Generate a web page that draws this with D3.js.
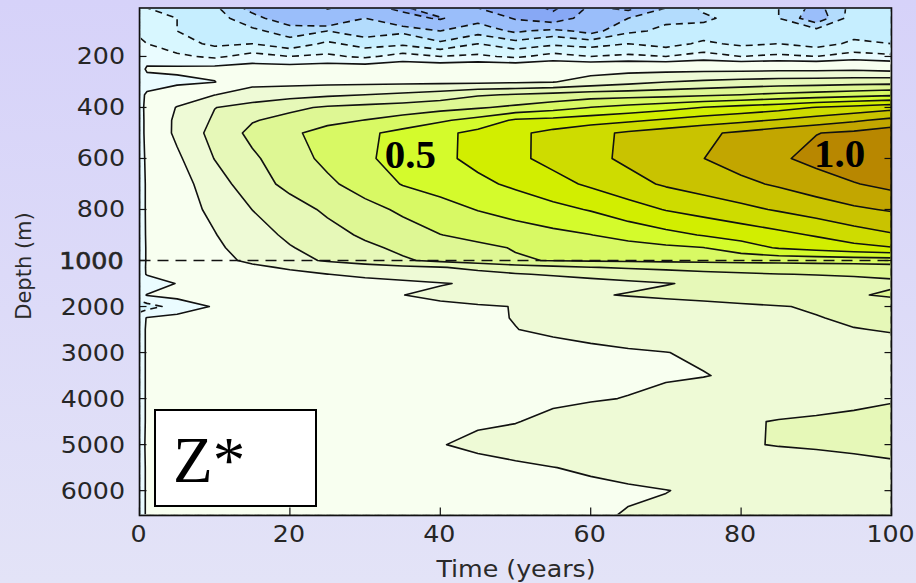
<!DOCTYPE html>
<html><head><meta charset="utf-8">
<script src="https://cdn.jsdelivr.net/npm/d3@7"></script>
<style>html,body{margin:0;padding:0;background:#dcdaf8;} body{width:916px;height:583px;overflow:hidden;}</style>
</head><body>
<svg id="chart" width="916" height="583"></svg>
<script>
// ---- data ----
const times  = [0,1,5,10,15,20,25,30,35,40,45,50,55,60,65,70,75,80,85,90,95,100];
const depths = [10,50,100,150,200,250,300,350,400,450,500,600,700,800,900,950,1000,
                1150,1300,1500,1750,2000,2250,2500,3000,3500,4000,4500,5000,5500,6000,6540];
// one row per depth, one column per time
const zRows = [
[-0.1,-0.1,-0.12,-0.14,-0.22,-0.28,-0.19,-0.27,-0.32,-0.21,-0.3,-0.33,-0.42,-0.28,-0.33,-0.2,-0.14,-0.12,-0.15,-0.22,-0.13,-0.12],
[-0.08,-0.09,-0.1,-0.13,-0.18,-0.24,-0.28,-0.2,-0.27,-0.31,-0.22,-0.31,-0.36,-0.25,-0.2,-0.16,-0.16,-0.13,-0.15,-0.24,-0.12,-0.11],
[-0.06,-0.07,-0.1,-0.12,-0.14,-0.17,-0.15,-0.18,-0.16,-0.2,-0.17,-0.21,-0.18,-0.22,-0.16,-0.14,-0.13,-0.12,-0.14,-0.13,-0.12,-0.11],
[-0.04,-0.05,-0.08,-0.11,-0.1,-0.13,-0.09,-0.12,-0.11,-0.14,-0.1,-0.13,-0.11,-0.12,-0.1,-0.12,-0.09,-0.11,-0.1,-0.12,-0.09,-0.1],
[-0.03,-0.03,-0.04,-0.06,-0.03,-0.05,-0.04,-0.06,-0.03,-0.05,-0.04,-0.06,-0.03,-0.05,-0.04,-0.05,-0.03,-0.05,-0.04,-0.05,-0.03,-0.04],
[-0.03,0.01,0.012,0.02,0.025,0.03,0.035,0.04,0.045,0.05,0.055,0.06,0.06,0.065,0.07,0.07,0.075,0.075,0.08,0.08,0.085,0.07],
[-0.05,-0.03,-0.015,-0.002,0.068,0.07,0.074,0.076,0.077,0.079,0.079,0.087,0.097,0.133,0.167,0.2,0.218,0.233,0.244,0.25,0.258,0.264],
[-0.02,0.01,0.045,0.098,0.148,0.164,0.183,0.2,0.22,0.245,0.29,0.307,0.328,0.35,0.358,0.367,0.382,0.4,0.421,0.439,0.459,0.481],
[-0.02,0.016,0.105,0.198,0.233,0.279,0.313,0.329,0.344,0.366,0.39,0.421,0.459,0.502,0.533,0.565,0.603,0.633,0.662,0.705,0.732,0.765],
[-0.02,0.014,0.119,0.213,0.293,0.33,0.375,0.402,0.438,0.486,0.533,0.615,0.63,0.656,0.681,0.714,0.747,0.775,0.809,0.843,0.884,0.928],
[-0.02,0.014,0.12,0.233,0.324,0.383,0.434,0.481,0.529,0.576,0.627,0.68,0.728,0.774,0.815,0.848,0.882,0.918,0.957,0.997,1.02,1.06],
[-0.02,0.009,0.083,0.203,0.284,0.356,0.424,0.486,0.534,0.578,0.627,0.68,0.729,0.775,0.819,0.859,0.899,0.942,0.985,1.03,1.07,1.1],
[-0.02,0.006,0.058,0.153,0.257,0.326,0.381,0.443,0.505,0.541,0.578,0.618,0.667,0.716,0.768,0.812,0.845,0.878,0.913,0.954,0.994,1.03],
[-0.02,0.006,0.057,0.121,0.201,0.26,0.316,0.368,0.417,0.461,0.504,0.538,0.571,0.607,0.657,0.705,0.74,0.775,0.81,0.847,0.884,0.91],
[-0.02,0.005,0.048,0.096,0.16,0.218,0.267,0.314,0.357,0.398,0.425,0.45,0.475,0.498,0.535,0.571,0.606,0.64,0.673,0.709,0.754,0.79],
[-0.02,0.004,0.04,0.085,0.137,0.194,0.239,0.282,0.318,0.348,0.379,0.406,0.424,0.443,0.461,0.48,0.498,0.556,0.609,0.639,0.67,0.695],
[-0.02,0.004,0.035,0.075,0.116,0.166,0.212,0.25,0.289,0.32,0.35,0.39,0.405,0.41,0.415,0.42,0.425,0.43,0.435,0.44,0.445,0.45],
[-0.02,0.005,0.03,0.058,0.085,0.11,0.132,0.155,0.177,0.195,0.222,0.25,0.275,0.297,0.31,0.32,0.33,0.335,0.34,0.345,0.35,0.36],
[-0.02,0.004,0.02,0.04,0.06,0.08,0.099,0.118,0.137,0.155,0.174,0.193,0.21,0.23,0.25,0.265,0.28,0.29,0.298,0.303,0.306,0.31],
[-0.05,-0.04,0.003,0.022,0.036,0.05,0.06,0.07,0.08,0.095,0.111,0.128,0.145,0.162,0.179,0.196,0.213,0.231,0.248,0.265,0.28,0.29],
[-0.02,0.003,0.015,0.03,0.045,0.058,0.072,0.086,0.099,0.118,0.136,0.154,0.172,0.19,0.206,0.221,0.235,0.25,0.264,0.279,0.293,0.31],
[-0.08,-0.07,-0.03,0.005,0.03,0.045,0.055,0.065,0.075,0.083,0.092,0.102,0.115,0.128,0.142,0.155,0.168,0.182,0.195,0.21,0.235,0.26],
[-0.02,0.003,0.015,0.03,0.04,0.05,0.058,0.065,0.073,0.08,0.09,0.102,0.114,0.126,0.138,0.149,0.161,0.173,0.185,0.196,0.213,0.23],
[-0.01,0.003,0.012,0.025,0.035,0.045,0.053,0.06,0.068,0.077,0.088,0.099,0.11,0.121,0.132,0.143,0.154,0.165,0.176,0.186,0.197,0.205],
[-0.01,0.003,0.01,0.02,0.028,0.035,0.042,0.048,0.054,0.06,0.066,0.072,0.079,0.086,0.093,0.099,0.108,0.118,0.128,0.138,0.152,0.17],
[-0.01,0.003,0.01,0.018,0.026,0.033,0.04,0.046,0.052,0.058,0.064,0.07,0.076,0.082,0.088,0.093,0.098,0.108,0.118,0.128,0.142,0.16],
[-0.01,0.003,0.012,0.022,0.032,0.041,0.05,0.058,0.066,0.073,0.08,0.087,0.091,0.095,0.102,0.116,0.128,0.14,0.152,0.164,0.178,0.192],
[-0.01,0.003,0.014,0.026,0.038,0.05,0.061,0.071,0.08,0.088,0.094,0.098,0.112,0.128,0.143,0.159,0.174,0.19,0.205,0.213,0.221,0.23],
[-0.01,0.004,0.018,0.032,0.046,0.06,0.072,0.082,0.09,0.098,0.11,0.121,0.133,0.145,0.157,0.169,0.181,0.193,0.204,0.21,0.217,0.225],
[-0.01,0.003,0.014,0.025,0.035,0.045,0.054,0.062,0.07,0.077,0.084,0.091,0.099,0.108,0.117,0.126,0.135,0.144,0.153,0.163,0.174,0.185],
[-0.01,0.003,0.012,0.021,0.03,0.038,0.045,0.052,0.058,0.064,0.07,0.075,0.081,0.087,0.093,0.099,0.107,0.114,0.121,0.129,0.138,0.148],
[-0.01,0.003,0.011,0.02,0.029,0.037,0.045,0.052,0.059,0.065,0.071,0.077,0.084,0.091,0.104,0.108,0.11,0.116,0.122,0.128,0.134,0.14]
];
const levels = [-0.4,-0.3,-0.2,-0.15,-0.1,-0.05,0,0.1,0.2,0.3,0.4,0.5,0.6,0.7,0.8,0.9,1.0];
const bandColors = ["#7393ee","#87a8f5","#9abefa","#b3dcfd","#c6eeff","#d8f7ff","#eafcff",
  "#f8fff0","#eefad6","#e6f8b8","#def794","#d8f964","#d4fb2c","#d2ee00","#cedc00","#c9c300","#c2a600","#b88700"];
const xTickValues = [0,20,40,60,80,100];
const yTicksUpper = [200,400,600,800];
const yTicksLower = [1000,2000,3000,4000,5000,6000];
const contourLabels = [{text:"0.5", t:32.6, d:637}, {text:"1.0", t:89.7, d:633}];
const boxLabel = "Z*";

// ---- layout ----
const svg = d3.select("#chart");
const W = 916, H = 583;
const x = d3.scaleLinear().domain([0,100]).range([139.5, 891.5]);
const y = d3.scaleLinear().domain([10,1000,6540]).range([8, 260.5, 515.5]);
const X0 = x(0), X1 = x(100), Y0 = y(10), Y1 = y(6540);

const defs = svg.append("defs");
const g = defs.append("linearGradient").attr("id","bg").attr("x1",0).attr("y1",0).attr("x2",0).attr("y2",1);
g.append("stop").attr("offset","0%").attr("stop-color","#d6d2f9");
g.append("stop").attr("offset","100%").attr("stop-color","#e3e3f7");
svg.append("rect").attr("width",W).attr("height",H).attr("fill","url(#bg)");

defs.append("clipPath").attr("id","plotclip").append("rect")
  .attr("x",X0).attr("y",Y0).attr("width",X1-X0).attr("height",Y1-Y0);
defs.append("clipPath").attr("id","lineclip").append("rect")
  .attr("x",X0+1.3).attr("y",Y0+1.3).attr("width",X1-X0-2.6).attr("height",Y1-Y0-2.6);

// ---- contours ----
const n = times.length, m = depths.length;
const flat = [].concat(...zRows);
const cont = d3.contours().size([n,m]).thresholds(levels)(flat);
function interp(arr, c){
  let f = Math.max(0, Math.min(arr.length-1, c-0.5));
  let i = Math.min(arr.length-2, Math.floor(f));
  return arr[i] + (f-i)*(arr[i+1]-arr[i]);
}
const proj = d3.geoTransform({point: function(px,py){ this.stream.point(x(interp(times,px)), y(interp(depths,py))); }});
const path = d3.geoPath(proj);

const plot = svg.append("g").attr("clip-path","url(#plotclip)");
plot.append("rect").attr("x",X0).attr("y",Y0).attr("width",X1-X0).attr("height",Y1-Y0).attr("fill",bandColors[0]);
plot.selectAll("path.band").data(cont).join("path").attr("class","band")
  .attr("d",path).attr("fill",(d,i)=>bandColors[i+1]).attr("stroke",(d,i)=>bandColors[i+1]).attr("stroke-width",0.4);

const lines = svg.append("g").attr("clip-path","url(#lineclip)");
lines.selectAll("path.iso").data(cont).join("path").attr("class","iso")
  .attr("d",path).attr("fill","none").attr("stroke","#111").attr("stroke-width",1.6)
  .attr("stroke-linejoin","round")
  .attr("stroke-dasharray",d=>d.value<0?"7,5":null);

// dashed separator at 1000 m
svg.append("line").attr("x1",X0).attr("x2",X1).attr("y1",y(1000)).attr("y2",y(1000))
  .attr("stroke","#111").attr("stroke-width",1.7).attr("stroke-dasharray","11,7");

// frame
svg.append("rect").attr("x",X0).attr("y",Y0).attr("width",X1-X0).attr("height",Y1-Y0)
  .attr("fill","none").attr("stroke","#111").attr("stroke-width",1.6);

// ticks
const tk = svg.append("g").attr("stroke","#111").attr("stroke-width",1.2);
xTickValues.forEach(v=>{
  tk.append("line").attr("x1",x(v)).attr("x2",x(v)).attr("y1",Y1).attr("y2",Y1-8);
});
yTicksUpper.concat(yTicksLower).forEach(v=>{
  tk.append("line").attr("x1",X0).attr("x2",X0+7).attr("y1",y(v)).attr("y2",y(v));
  tk.append("line").attr("x1",X1).attr("x2",X1-7).attr("y1",y(v)).attr("y2",y(v));
});

// tick labels
const font = "'DejaVu Sans', sans-serif";
const tl = svg.append("g").attr("font-family",font).attr("font-size",23).attr("fill","#262626");
yTicksUpper.forEach(v=>{
  tl.append("text").attr("transform",`translate(125,${y(v)+8}) scale(1.1,1)`)
    .attr("text-anchor","end").text(v);
});
yTicksLower.forEach(v=>{
  tl.append("text").attr("transform",`translate(${v===1000?123.5:125},${y(v)+8.5}) scale(1.1,1)`)
    .attr("text-anchor","end")
    .attr("stroke",v===1000?"#262626":null).attr("stroke-width",v===1000?0.6:null)
    .text(v);
});
xTickValues.forEach(v=>{
  tl.append("text").attr("transform",`translate(${x(v)-1},542) scale(1.1,1)`)
    .attr("text-anchor","middle").text(v);
});
// axis titles
svg.append("text").attr("transform","translate(516,577) scale(1.1,1)").attr("text-anchor","middle")
  .attr("font-family",font).attr("font-size",23).attr("fill","#2a2a2a").text("Time (years)");
svg.append("text").attr("transform","translate(31,266) rotate(-90)").attr("text-anchor","middle")
  .attr("font-family",font).attr("font-size",21).attr("fill","#2a2a2a").text("Depth (m)");

// contour value labels
svg.selectAll("text.clab").data(contourLabels).join("text").attr("class","clab")
  .attr("x",d=>x(d.t)).attr("y",d=>y(d.d))
  .attr("font-family","'Liberation Serif','Times New Roman',serif").attr("font-weight","bold")
  .attr("font-size",41).attr("fill","#000").text(d=>d.text);

// Z* box
svg.append("rect").attr("x",155).attr("y",410).attr("width",161).attr("height",96)
  .attr("fill","#fff").attr("stroke","#000").attr("stroke-width",2);
svg.append("text").attr("x",173).attr("y",482).attr("font-family","'Liberation Serif','Times New Roman',serif")
  .attr("font-size",65).attr("fill","#000").text(boxLabel);
</script>
</body></html>
